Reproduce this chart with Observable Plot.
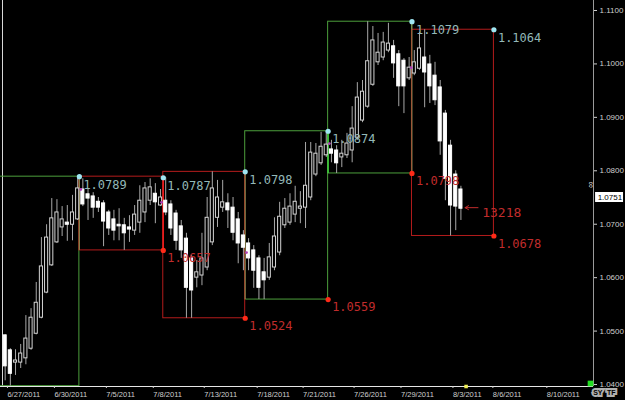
<!DOCTYPE html>
<html><head><meta charset="utf-8">
<script src="https://cdn.jsdelivr.net/npm/d3@7"></script>
<script src="https://cdn.jsdelivr.net/npm/@observablehq/plot@0.6"></script>
<style>
html,body{margin:0;padding:0;background:#000;}
#chart{width:625px;height:400px;overflow:hidden;}
</style></head><body><div id="chart"></div>
<script>
// ---- candle data (8h bars) ----
const opens = [1.0492,1.0464,1.0441,1.0441,1.0449,1.0467,1.0495,1.0525,1.0572,1.0623,1.0666,1.0694,1.0703,1.0699,1.0709,1.0765,1.0756,1.0752,1.0742,1.0739,1.0722,1.0709,1.0699,1.0698,1.0694,1.0688,1.0703,1.0722,1.0744,1.0757,1.0735,1.0744,1.0737,1.0720,1.0696,1.0673,1.0636,1.0600,1.0604,1.0619,1.0666,1.0712,1.0731,1.0739,1.0731,1.0709,1.0679,1.0664,1.0651,1.0636,1.0610,1.0600,1.0619,1.0647,1.0698,1.0703,1.0718,1.0729,1.0731,1.0750,1.0793,1.0814,1.0829,1.0840,1.0838,1.0825,1.0829,1.0838,1.0862,1.0894,1.0920,1.0961,1.1003,1.1012,1.1025,1.1033,1.1018,1.1006,1.0973,1.0982,1.0991,1.1012,1.0999,1.0978,1.0956,1.0907,1.0847,1.0793,1.0765];
const highs = [1.0493,1.0467,1.0465,1.0475,1.0529,1.0542,1.0591,1.0675,1.0699,1.0748,1.0746,1.0733,1.0735,1.0754,1.0789,1.0785,1.0767,1.0759,1.0750,1.0744,1.0726,1.0726,1.0729,1.0711,1.0716,1.0735,1.0772,1.0778,1.0785,1.0776,1.0765,1.0787,1.0744,1.0726,1.0707,1.0683,1.0641,1.0632,1.0683,1.0750,1.0798,1.0782,1.0782,1.0757,1.0750,1.0722,1.0688,1.0673,1.0660,1.0641,1.0636,1.0664,1.0712,1.0741,1.0748,1.0757,1.0771,1.0761,1.0853,1.0853,1.0851,1.0872,1.0874,1.0857,1.0847,1.0857,1.0870,1.0920,1.0965,1.0969,1.1079,1.1070,1.1057,1.1059,1.1076,1.1044,1.1025,1.1010,1.1012,1.1025,1.1059,1.1064,1.1016,1.1003,1.0969,1.0913,1.0857,1.0800,1.0771];
const lows = [1.0407,1.0397,1.0417,1.0430,1.0437,1.0464,1.0493,1.0523,1.0570,1.0621,1.0664,1.0677,1.0668,1.0669,1.0707,1.0733,1.0707,1.0711,1.0722,1.0658,1.0679,1.0669,1.0669,1.0651,1.0666,1.0679,1.0683,1.0703,1.0735,1.0701,1.0733,1.0716,1.0679,1.0651,1.0636,1.0524,1.0524,1.0581,1.0585,1.0613,1.0660,1.0694,1.0722,1.0692,1.0669,1.0626,1.0613,1.0613,1.0580,1.0559,1.0559,1.0595,1.0613,1.0641,1.0692,1.0698,1.0703,1.0701,1.0692,1.0744,1.0789,1.0810,1.0825,1.0815,1.0795,1.0806,1.0823,1.0815,1.0857,1.0890,1.0917,1.0958,1.0997,1.1006,1.1021,1.0973,1.0920,1.0907,1.0969,1.0978,1.0988,1.0918,1.0926,1.0922,1.0829,1.0744,1.0678,1.0688,1.0707];
const closes = [1.0434,1.0420,1.0445,1.0458,1.0486,1.0525,1.0553,1.0621,1.0675,1.0711,1.0722,1.0709,1.0699,1.0722,1.0767,1.0737,1.0748,1.0731,1.0731,1.0705,1.0692,1.0688,1.0696,1.0683,1.0690,1.0718,1.0744,1.0767,1.0769,1.0741,1.0750,1.0722,1.0692,1.0669,1.0651,1.0581,1.0576,1.0610,1.0636,1.0712,1.0767,1.0750,1.0741,1.0726,1.0684,1.0664,1.0656,1.0636,1.0613,1.0581,1.0595,1.0638,1.0677,1.0714,1.0729,1.0733,1.0742,1.0733,1.0772,1.0834,1.0832,1.0845,1.0849,1.0832,1.0814,1.0832,1.0851,1.0879,1.0937,1.0948,1.1005,1.1044,1.1021,1.1040,1.1038,1.1001,1.0958,1.0958,1.0993,1.1003,1.1029,1.0984,1.0958,1.0932,1.0855,1.0785,1.0735,1.0733,1.0729];

// ---- axis ticks ----
const dateTickPos = [0.44, 9.51, 19.54, 28.60, 38.44, 48.66, 57.53, 67.37, 76.43, 86.46, 94.17, 104.59];
const dateTickLabels = ["6/27/2011","6/30/2011","7/5/2011","7/8/2011","7/13/2011","7/18/2011","7/21/2011","7/26/2011","7/29/2011","8/3/2011","8/6/2011","8/10/2011"];
const priceTicks = [1.04, 1.05, 1.06, 1.07, 1.08, 1.09, 1.10, 1.11];

// ---- weekly range boxes ----
const boxStart = [-3, 14.33, 30.53, 46.35, 62.36, 78.55];
const boxEnd   = [14.33, 30.53, 46.35, 62.36, 78.55, 94.37];
const boxHigh  = [1.0789, 1.0789, 1.0798, 1.0874, 1.1079, 1.1064];
const boxLow   = [1.0397, 1.0651, 1.0524, 1.0559, 1.0795, 1.0678];
const boxDir   = ["up", "down", "down", "up", "up", "down"];

// connector segments on box edges
const connX    = [14.33, 30.53, 46.35, 62.36, 78.55];
const connTop  = [1.0789, 1.0787, 1.0798, 1.0874, 1.1079];
const connBot  = [1.0651, 1.0651, 1.0559, 1.0795, 1.0795];
const connKind = ["olive", "red", "olive", "green", "olive"];

// swing highs / lows / weekly opens
const highPtX = [14.33, 30.53, 46.35, 62.36, 78.55, 94.37];
const highPtY = [1.0789, 1.0787, 1.0798, 1.0874, 1.1079, 1.1064];
const highPtLabel = ["1.0789", "1.0787", "1.0798", "1.0874", "1.1079", "1.1064"];
const lowPtX = [30.53, 46.35, 62.36, 78.55, 94.37];
const lowPtY = [1.0651, 1.0524, 1.0559, 1.0795, 1.0678];
const lowPtLabel = ["1.0657", "1.0524", "1.0559", "1.0798", "1.0678"];
const openPtX = [14.6, 30.2, 46.6, 62.6, 78.4];
const openPtY = [1.0765, 1.0741, 1.0647, 1.0851, 1.0993];

const lastPrice = 1.0751;
const arrowPrice = 1.0731;
const arrowFrom = 91.3, arrowTo = 88.8;
const counterText = "13218";

// ---- build ----
const candles = opens.map((o, i) => ({i, open: o, high: highs[i], low: lows[i], close: closes[i]}));
const upC = candles.filter(d => d.close >= d.open);
const dnC = candles.filter(d => d.close < d.open);
const boxes = boxStart.map((s, k) => ({x1: s, x2: boxEnd[k], lo: boxLow[k], hi: boxHigh[k], dir: boxDir[k]}));
const conns = connX.map((x, k) => ({x, top: connTop[k], bot: connBot[k], kind: connKind[k]}));
const highPts = highPtX.map((x, k) => ({x, y: highPtY[k], t: highPtLabel[k]}));
const lowPts = lowPtX.map((x, k) => ({x, y: lowPtY[k], t: lowPtLabel[k]}));
const openPts = openPtX.map((x, k) => ({x, y: openPtY[k]}));
const dateLabel = new Map(dateTickPos.map((p, k) => [p, dateTickLabels[k]]));

const xDomain = [-0.9, 113.6];
const yDomain = [1.03963, 1.11187];
const half = 0.3;
const GREEN = "#4c9e3c", RED = "#b41c1c", OLIVE = "#8c8a52";
const labelFont = "'DejaVu Sans Mono', monospace";

const chart = Plot.plot({
  width: 625, height: 400,
  marginLeft: 0, marginRight: 32, marginTop: 0, marginBottom: 14,
  style: {background: "#000", color: "#cfcfcf", fontFamily: "'Liberation Sans', Arial, sans-serif", fontSize: "8px", overflow: "visible"},
  x: {domain: xDomain, axis: null},
  y: {domain: yDomain, axis: null},
  marks: [
    // frame lines
    Plot.ruleX([xDomain[0]], {stroke: "#d8d8d8", dx: 2}),
    Plot.ruleX([xDomain[1]], {stroke: "#9a9a9a"}),
    Plot.ruleY([yDomain[0]], {stroke: "#e6e6e6"}),
    // axes
    Plot.axisY(priceTicks, {anchor: "right", tickSize: 3, tickPadding: 3, tickFormat: d3.format(".4f"), fontSize: 8}),
    Plot.axisX(dateTickPos, {anchor: "bottom", tickSize: 2, tickPadding: 3, tickFormat: d => dateLabel.get(d), textAnchor: "start", fontSize: 7.5}),
    // weekly boxes
    Plot.rect(boxes.filter(b => b.dir === "up"), {x1: "x1", x2: "x2", y1: "lo", y2: "hi", stroke: GREEN, fill: "none", clip: true}),
    Plot.rect(boxes.filter(b => b.dir === "down"), {x1: "x1", x2: "x2", y1: "lo", y2: "hi", stroke: RED, fill: "none", clip: true}),
    Plot.ruleX(conns.filter(c => c.kind === "olive"), {x: "x", y1: "bot", y2: "top", stroke: OLIVE}),
    Plot.ruleX(conns.filter(c => c.kind === "red"), {x: "x", y1: "bot", y2: "top", stroke: "#e81c1c", strokeWidth: 1.5}),
    Plot.ruleX(conns.filter(c => c.kind === "green"), {x: "x", y1: "bot", y2: "top", stroke: "#3ccc3c", strokeWidth: 1.5}),
    // candles
    Plot.ruleX(candles, {x: "i", y1: "low", y2: "high", stroke: "#a8a8a8"}),
    Plot.rect(dnC, {x1: d => d.i - half, x2: d => d.i + half, y1: "close", y2: "open", fill: "#ffffff", stroke: "#ffffff"}),
    Plot.rect(upC, {x1: d => d.i - half, x2: d => d.i + half, y1: "open", y2: "close", fill: "#000", stroke: "#d4d4d4"}),
    // markers
    Plot.dot(openPts, {x: "x", y: "y", r: 1.4, fill: "#b040b8"}),
    Plot.dot(highPts, {x: "x", y: "y", r: 2.6, fill: "#9fe6f2"}),
    Plot.dot(lowPts, {x: "x", y: "y", r: 2.6, fill: "#ff2a18"}),
    Plot.text(highPts, {x: "x", y: "y", text: "t", textAnchor: "start", dx: 4, dy: 8, fill: "#93b8b8", fontSize: 12, fontFamily: labelFont}),
    Plot.text(lowPts, {x: "x", y: "y", text: "t", textAnchor: "start", dx: 4, dy: 8, fill: "#c02c2c", fontSize: 12, fontFamily: labelFont}),
    // bar counter arrow
    Plot.arrow([arrowPrice], {x1: () => arrowFrom, x2: () => arrowTo, y1: d => d, y2: d => d, stroke: "#c02c2c", headLength: 6, strokeWidth: 1}),
    Plot.text([counterText], {x: () => arrowFrom + 0.8, y: () => arrowPrice, text: d => d, textAnchor: "start", dy: 5, fill: "#c02c2c", fontSize: 13, fontFamily: labelFont}),
    // last price tag
    Plot.ruleY([lastPrice], {x1: 114.0, x2: 119.4, stroke: "#ffffff", strokeWidth: 10}),
    Plot.text([lastPrice], {x: 114.4, y: d => d, text: d => d3.format(".4f")(d), textAnchor: "start", fill: "#000", fontSize: 8}),
    Plot.text(["\u221e"], {frameAnchor: "right", y: () => 1.0768, dx: -3, rotate: 90, fill: "#ddd", fontSize: 9}),
    // next-bar marker and corner widgets
    Plot.dot([candles.length], {x: d => d, frameAnchor: "bottom", symbol: "square", r: 2, fill: "#eeee55"}),
    Plot.dot([0], {frameAnchor: "bottom-right", dx: -3, dy: -3, symbol: "square", r: 3.2, fill: "#22dd22"}),
    Plot.text(["SY"], {frameAnchor: "bottom-right", dx: 9, dy: 8, fill: "#000", stroke: "#b0b0b0", strokeWidth: 4, strokeLinejoin: "miter", fontSize: 7, fontWeight: "bold"}),
    Plot.text(["TF"], {frameAnchor: "bottom-right", dx: 22, dy: 8, fill: "#000", stroke: "#b0b0b0", strokeWidth: 4, strokeLinejoin: "miter", fontSize: 7, fontWeight: "bold"})
  ]
});
document.getElementById("chart").appendChild(chart);
</script>
</body></html>
